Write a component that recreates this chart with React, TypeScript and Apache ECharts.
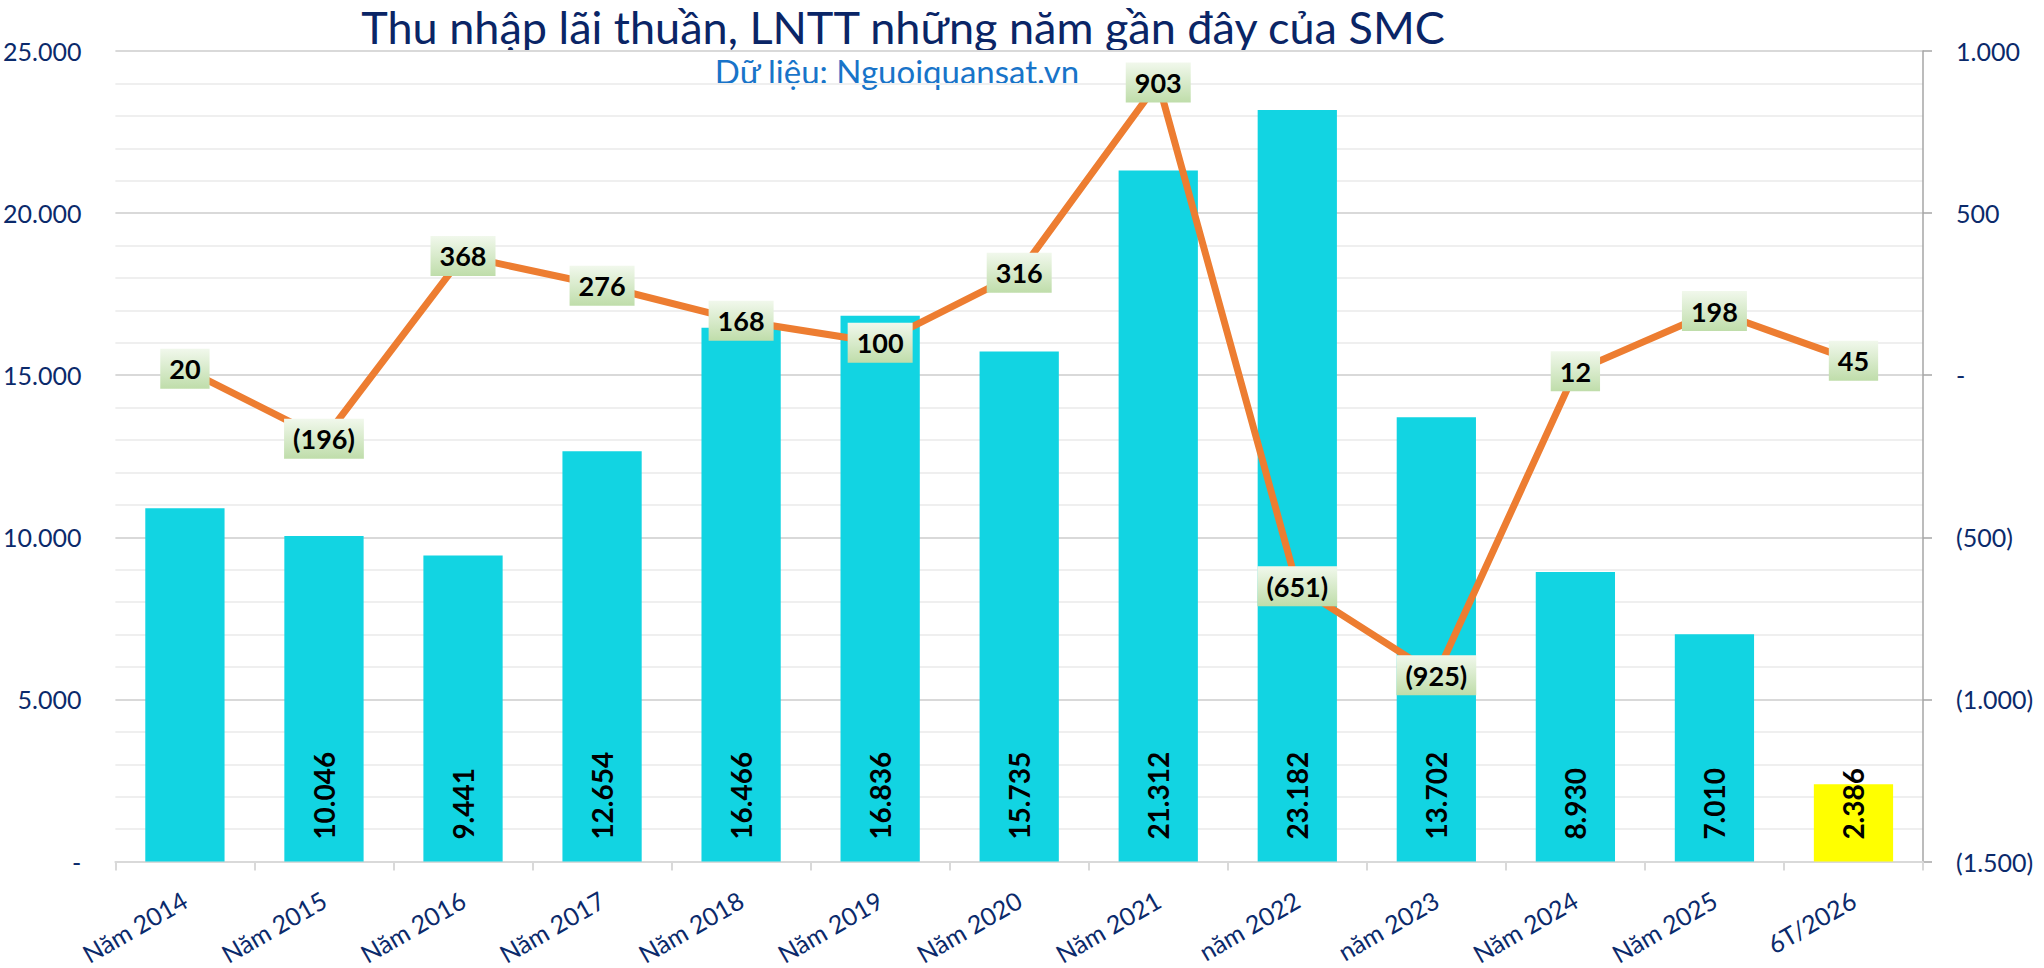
import React, { useEffect, useRef } from "react";
import * as echarts from "echarts";

const categories = [
  "Năm 2014", "Năm 2015", "Năm 2016", "Năm 2017", "Năm 2018", "Năm 2019", "Năm 2020",
  "Năm 2021", "năm 2022", "năm 2023", "Năm 2024", "Năm 2025", "6T/2026",
];
const netInterestIncome = [10900, 10046, 9441, 12654, 16466, 16836, 15735, 21312, 23182, 13702, 8930, 7010, 2386];
const profitBeforeTax = [20, -196, 368, 276, 168, 100, 316, 903, -651, -925, 12, 198, 45];
const unlabelledBars = ["Năm 2014"];
const highlightedBars = ["6T/2026"];
const titleText = "Thu nhập lãi thuần, LNTT những năm gần đây của SMC";
const subtitleText = "Dữ liệu: Nguoiquansat.vn";

const navy = "#0B2A6B";
const font = "Lato";

function thousands(n: number): string {
  return Math.round(Math.abs(n)).toString().replace(/\B(?=(\d{3})+(?!\d))/g, ".");
}
function acct(n: number): string {
  if (n === 0) return "-";
  return n < 0 ? "(" + thousands(n) + ")" : thousands(n);
}

export default function App() {
  const ref = useRef<HTMLDivElement>(null);
  useEffect(() => {
    if (!ref.current) return;
    const chart = echarts.init(ref.current, undefined, { renderer: "svg" });
    const boxGradient = new echarts.graphic.LinearGradient(0, 0, 0, 1, [
      { offset: 0, color: "#F1F8EC" },
      { offset: 1, color: "#BFDDAA" },
    ]);
    chart.setOption({
      animation: false,
      backgroundColor: "#FFFFFF",
      graphic: [
        {
          type: "text",
          x: 903,
          y: 27,
          style: {
            text: titleText,
            font: `45px ${font}`,
            fill: "#0A2566",
            align: "center",
            verticalAlign: "middle",
          },
        },
        {
          type: "text",
          x: 897,
          y: 71,
          style: {
            text: subtitleText,
            font: `33px ${font}`,
            fill: "#1874C9",
            align: "center",
            verticalAlign: "middle",
          },
        },
      ],
      grid: { left: 113, right: 121, top: 51, bottom: 99, containLabel: false },
      xAxis: {
        type: "category",
        data: categories,
        axisLine: { show: true, lineStyle: { color: "#D9D9D9", width: 2 } },
        axisTick: { show: true, length: 9, lineStyle: { color: "#D9D9D9", width: 2 } },
        axisLabel: {
          rotate: 30,
          margin: 36,
          color: navy,
          fontFamily: font,
          fontSize: 25,
          interval: 0,
        },
      },
      yAxis: [
        {
          type: "value",
          min: 0,
          max: 25000,
          interval: 5000,
          axisLine: { show: false },
          axisTick: { show: false },
          axisLabel: {
            margin: 34,
            color: navy,
            fontFamily: font,
            fontSize: 25,
            formatter: (v: number) => acct(v),
          },
          splitLine: { show: true, lineStyle: { color: "#D9D9D9", width: 2 } },
          minorTick: { show: false, splitNumber: 5 },
          minorSplitLine: { show: true, lineStyle: { color: "#EFEFEF", width: 2 } },
        },
        {
          type: "value",
          position: "right",
          min: -1500,
          max: 1000,
          interval: 500,
          axisLine: { show: true, lineStyle: { color: "#A6A6A6", width: 1.5 } },
          axisTick: { show: true, length: 9, lineStyle: { color: "#A6A6A6", width: 1.5 } },
          axisLabel: {
            margin: 33,
            color: navy,
            fontFamily: font,
            fontSize: 25,
            formatter: (v: number) => acct(v),
          },
          splitLine: { show: false },
        },
      ],
      series: [
        {
          name: "Thu nhập lãi thuần",
          type: "bar",
          yAxisIndex: 0,
          barCategoryGap: "43%",
          data: netInterestIncome.map((v, i) => ({
            value: v,
            itemStyle: { color: highlightedBars.includes(categories[i]) ? "#FFFF00" : "#12D4E2" },
            label: { show: !unlabelledBars.includes(categories[i]) },
          })),
          label: {
            show: true,
            position: "insideBottom",
            rotate: 90,
            align: "left",
            verticalAlign: "middle",
            distance: 22,
            color: "#000000",
            fontFamily: font,
            fontWeight: "bold",
            fontSize: 28,
            formatter: (p: any) => thousands(p.value),
          },
        },
        {
          name: "LNTT",
          type: "line",
          yAxisIndex: 1,
          data: profitBeforeTax,
          symbol: "circle",
          symbolSize: 2,
          itemStyle: { color: "#ED7D31" },
          lineStyle: { color: "#ED7D31", width: 7 },
          z: 5,
          label: {
            show: true,
            position: "inside",
            color: "#000000",
            fontFamily: font,
            fontWeight: "bold",
            fontSize: 27,
            backgroundColor: boxGradient,
            padding: [7, 9, 6, 9],
            formatter: (p: any) => acct(p.value),
          },
        },
      ],
    });
    return () => chart.dispose();
  }, []);
  return (
    <div
      ref={ref}
      style={{ position: "fixed", left: 0, top: 0, width: 2044, height: 968, background: "#fff" }}
    />
  );
}
